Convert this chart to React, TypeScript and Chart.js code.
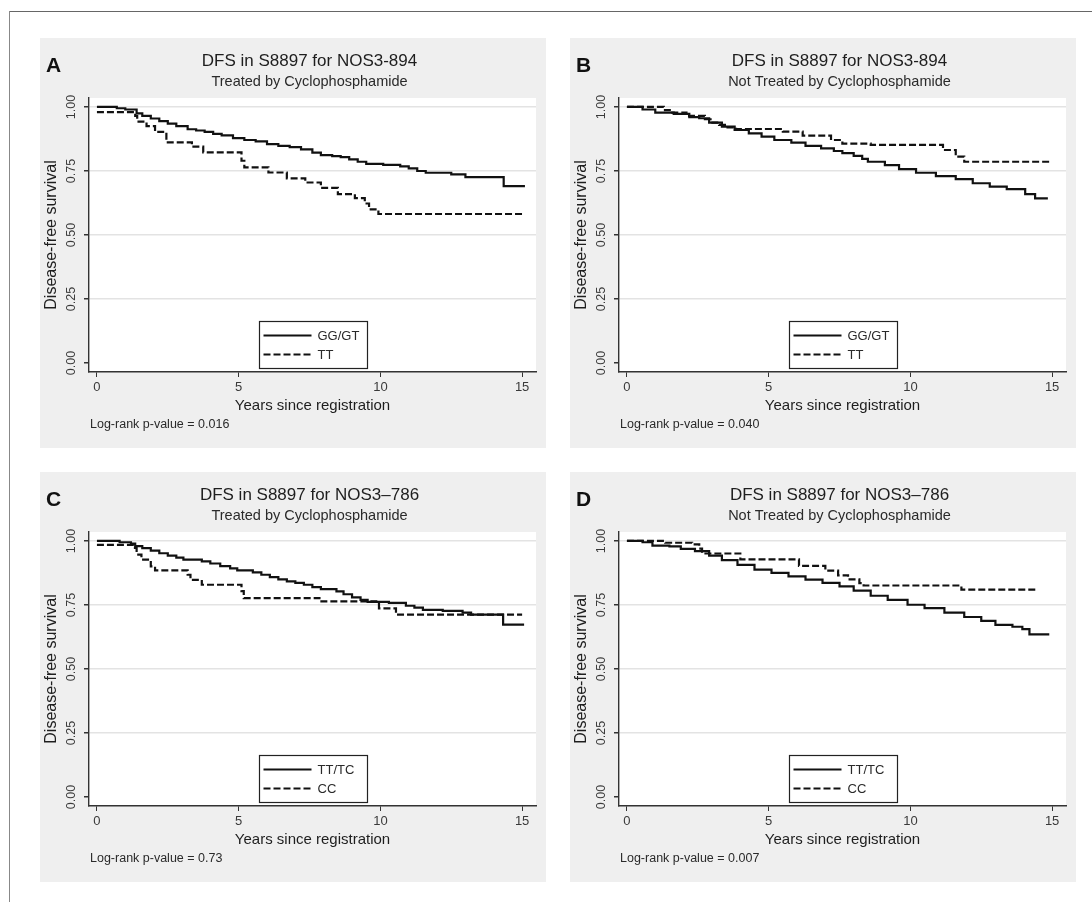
import React, { useEffect, useRef } from 'react';
import { Chart, registerables } from 'chart.js';

Chart.register(...registerables);

const FONT = '"Liberation Sans", Arial, Helvetica, sans-serif';
Chart.defaults.font.family = FONT;

// ---------- data ----------
const X_TICKS = [0, 5, 10, 15];
const Y_TICKS = [0, 0.25, 0.5, 0.75, 1];

const LETTERS = ['A', 'B', 'C', 'D'];
const TITLES = ['DFS in S8897 for NOS3-894', 'DFS in S8897 for NOS3-894', 'DFS in S8897 for NOS3–786', 'DFS in S8897 for NOS3–786'];
const SUBTITLES = ['Treated by Cyclophosphamide', 'Not Treated by Cyclophosphamide', 'Treated by Cyclophosphamide', 'Not Treated by Cyclophosphamide'];
const SOLID_LABELS = ['GG/GT', 'GG/GT', 'TT/TC', 'TT/TC'];
const DASH_LABELS = ['TT', 'TT', 'CC', 'CC'];
const P_VALUES = ['0.016', '0.040', '0.73', '0.007'];

// Panel A
const aSolidT = [0, 0.7, 1.0, 1.4, 1.6, 1.9, 2.2, 2.5, 2.8, 3.2, 3.5, 3.8, 4.1, 4.4, 4.8, 5.2, 5.6, 6.0, 6.4, 6.8, 7.2, 7.6, 7.9, 8.3, 8.6, 8.9, 9.2, 9.5, 10.1, 10.7, 11.0, 11.3, 11.6, 12.5, 13.0, 14.35, 15.1];
const aSolidS = [1.0, 0.995, 0.99, 0.975, 0.965, 0.955, 0.945, 0.935, 0.925, 0.913, 0.908, 0.903, 0.895, 0.889, 0.878, 0.871, 0.866, 0.855, 0.848, 0.843, 0.834, 0.822, 0.812, 0.808, 0.804, 0.795, 0.786, 0.778, 0.774, 0.768, 0.76, 0.75, 0.743, 0.737, 0.726, 0.691, 0.691];
const aDashT = [0, 1.35, 1.42, 1.75, 2.05, 2.45, 3.35, 3.75, 5.1, 5.2, 6.05, 6.7, 7.35, 7.9, 8.5, 9.1, 9.45, 9.6, 9.93, 15.05];
const aDashS = [0.98, 0.965, 0.943, 0.925, 0.903, 0.862, 0.845, 0.823, 0.79, 0.764, 0.744, 0.721, 0.705, 0.684, 0.66, 0.644, 0.623, 0.6, 0.582, 0.582];

// Panel B
const bSolidT = [0, 0.55, 1.0, 1.65, 2.2, 2.55, 2.9, 3.35, 3.8, 4.3, 4.75, 5.2, 5.8, 6.3, 6.85, 7.3, 7.6, 8.0, 8.3, 8.5, 9.1, 9.6, 10.2, 10.9, 11.6, 12.2, 12.8, 13.4, 14.05, 14.4, 14.85];
const bSolidS = [1.0, 0.99, 0.978, 0.973, 0.96, 0.956, 0.939, 0.923, 0.91, 0.897, 0.884, 0.871, 0.861, 0.848, 0.838, 0.828, 0.82, 0.809, 0.797, 0.786, 0.773, 0.757, 0.743, 0.73, 0.718, 0.702, 0.689, 0.679, 0.66, 0.643, 0.643];
const bDashT = [0, 1.3, 1.6, 2.1, 2.75, 2.95, 3.25, 3.5, 3.85, 5.5, 6.2, 7.2, 7.6, 8.6, 11.15, 11.6, 11.9, 15.0];
const bDashS = [1.0, 0.988, 0.978, 0.965, 0.952, 0.939, 0.93, 0.92, 0.914, 0.904, 0.888, 0.871, 0.857, 0.852, 0.832, 0.806, 0.786, 0.786];

// Panel C
const cSolidT = [0, 0.8, 1.2, 1.35, 1.6, 1.9, 2.2, 2.5, 2.8, 3.05, 3.7, 4.0, 4.35, 4.7, 4.95, 5.5, 5.8, 6.1, 6.4, 6.7, 7.0, 7.3, 7.6, 7.9, 8.45, 8.7, 9.0, 9.3, 9.55, 10.3, 10.9, 11.2, 11.5, 12.2, 12.9, 13.2, 14.33, 15.07];
const cSolidS = [1.0, 0.995, 0.99, 0.98, 0.972, 0.962, 0.952, 0.943, 0.935, 0.927, 0.92, 0.912, 0.902, 0.893, 0.885, 0.877, 0.868, 0.859, 0.85, 0.842, 0.836, 0.829, 0.82, 0.812, 0.803, 0.792, 0.78, 0.77, 0.762, 0.758, 0.747, 0.74, 0.731, 0.727, 0.72, 0.712, 0.673, 0.673];
const cDashT = [0, 1.3, 1.4, 1.57, 1.9, 2.05, 3.2, 3.3, 3.7, 5.1, 5.18, 7.85, 9.95, 10.55, 15.0];
const cDashS = [0.985, 0.973, 0.947, 0.927, 0.901, 0.885, 0.868, 0.848, 0.829, 0.804, 0.777, 0.764, 0.737, 0.712, 0.712];

// Panel D
const dSolidT = [0, 0.55, 0.9, 1.5, 1.9, 2.4, 2.9, 3.35, 3.9, 4.5, 5.1, 5.7, 6.3, 6.9, 7.5, 8.0, 8.6, 9.2, 9.9, 10.5, 11.2, 11.9, 12.5, 13.0, 13.6, 13.95, 14.2, 14.9];
const dSolidS = [1.0, 0.995, 0.982, 0.979, 0.969, 0.96, 0.943, 0.925, 0.907, 0.888, 0.875, 0.862, 0.849, 0.836, 0.823, 0.806, 0.786, 0.77, 0.751, 0.738, 0.72, 0.703, 0.688, 0.672, 0.665, 0.656, 0.635, 0.635];
const dDashT = [0, 1.35, 2.3, 2.55, 2.65, 4.0, 6.07, 7.0, 7.45, 7.8, 8.2, 8.35, 11.8, 14.5];
const dDashS = [1.0, 0.993, 0.987, 0.97, 0.951, 0.928, 0.903, 0.884, 0.866, 0.85, 0.835, 0.826, 0.81, 0.81];

const SOLID_T = [aSolidT, bSolidT, cSolidT, dSolidT];
const SOLID_S = [aSolidS, bSolidS, cSolidS, dSolidS];
const DASH_T = [aDashT, bDashT, cDashT, dDashT];
const DASH_S = [aDashS, bDashS, cDashS, dDashS];

// ---------- layout ----------
const PW = 506;
const PH = 410;
const PANEL_POS = [
  { left: 40, top: 38 },
  { left: 570, top: 38 },
  { left: 40, top: 472 },
  { left: 570, top: 472 },
];

const decorPlugin = {
  id: 'decor',
  beforeDraw(chart: any) {
    const { ctx, chartArea: ca, width, height } = chart;
    ctx.save();
    ctx.fillStyle = '#efefef';
    ctx.fillRect(0, 0, width, height);
    ctx.fillStyle = '#ffffff';
    ctx.fillRect(ca.left, ca.top, ca.right - ca.left, ca.bottom - ca.top);
    ctx.restore();
  },
  afterDraw(chart: any, _args: any, opts: any) {
    const { ctx, chartArea: ca } = chart;
    const ys = chart.scales.y;
    ctx.save();
    // rotated y tick labels
    ctx.font = `12.5px ${FONT}`;
    ctx.fillStyle = '#3a3a3a';
    ctx.textAlign = 'center';
    ctx.textBaseline = 'middle';
    for (const v of Y_TICKS) {
      const py = ys.getPixelForValue(v);
      ctx.save();
      ctx.translate(ca.left - 17, py);
      ctx.rotate(-Math.PI / 2);
      ctx.fillText(v.toFixed(2), 0, 0);
      ctx.restore();
    }
    // panel letter
    ctx.font = `bold 21px ${FONT}`;
    ctx.fillStyle = '#111';
    ctx.textAlign = 'left';
    ctx.fillText(opts.letter, 6, 28);
    // titles
    const cx = (ca.left + ca.right) / 2 - 3;
    ctx.textAlign = 'center';
    ctx.fillStyle = '#1e1e1e';
    ctx.font = `17px ${FONT}`;
    ctx.fillText(opts.title, cx, 23);
    ctx.font = `14.5px ${FONT}`;
    ctx.fillStyle = '#2a2a2a';
    ctx.fillText(opts.subtitle, cx, 44);
    // p-value
    ctx.textAlign = 'left';
    ctx.font = `12.5px ${FONT}`;
    ctx.fillStyle = '#2a2a2a';
    ctx.fillText(`Log-rank p-value = ${opts.pvalue}`, 50, 387);
    // legend box inside plot region
    const bw = 108;
    const bh = 47;
    const bx = Math.round((ca.left + ca.right) / 2 - bw / 2) + 0.5;
    const by = Math.round(ca.bottom - 4 - bh) + 0.5;
    ctx.fillStyle = '#fff';
    ctx.fillRect(bx, by, bw, bh);
    ctx.strokeStyle = '#222';
    ctx.lineWidth = 1.2;
    ctx.setLineDash([]);
    ctx.strokeRect(bx, by, bw, bh);
    chart.data.datasets.forEach((ds: any, i: number) => {
      const ly = by + 14 + i * 19;
      ctx.strokeStyle = ds.borderColor;
      ctx.lineWidth = ds.borderWidth;
      ctx.setLineDash(ds.borderDash || []);
      ctx.beginPath();
      ctx.moveTo(bx + 4, ly);
      ctx.lineTo(bx + 52, ly);
      ctx.stroke();
      ctx.setLineDash([]);
      ctx.fillStyle = '#2a2a2a';
      ctx.font = `13px ${FONT}`;
      ctx.textAlign = 'left';
      ctx.fillText(ds.label, bx + 58, ly + 1);
    });
    ctx.restore();
  },
};

function Panel({ idx }: { idx: number }) {
  const ref = useRef<HTMLCanvasElement | null>(null);
  useEffect(() => {
    if (!ref.current) return;
    const mk = (t: number[], s: number[]) => t.map((x, i) => ({ x, y: s[i] }));
    const chart = new Chart(ref.current, {
      type: 'line',
      data: {
        datasets: [
          {
            label: SOLID_LABELS[idx],
            data: mk(SOLID_T[idx], SOLID_S[idx]),
            stepped: true,
            borderColor: '#111',
            borderWidth: 2.2,
            borderDash: [],
            pointRadius: 0,
            fill: false,
          },
          {
            label: DASH_LABELS[idx],
            data: mk(DASH_T[idx], DASH_S[idx]),
            stepped: true,
            borderColor: '#111',
            borderWidth: 2.2,
            borderDash: [7, 3],
            pointRadius: 0,
            fill: false,
          },
        ],
      },
      options: {
        animation: false,
        responsive: false,
        devicePixelRatio: 1,
        layout: { padding: { left: 0, top: 60, right: 10, bottom: 0 } },
        plugins: {
          legend: { display: false },
          tooltip: { enabled: false },
          decor: {
            letter: LETTERS[idx],
            title: TITLES[idx],
            subtitle: SUBTITLES[idx],
            pvalue: P_VALUES[idx],
          },
        } as any,
        scales: {
          x: {
            type: 'linear',
            min: -0.28,
            max: 15.49,
            afterBuildTicks: (s: any) => {
              s.ticks = X_TICKS.map((v) => ({ value: v }));
            },
            afterFit: (s: any) => {
              s.height = 76;
            },
            ticks: {
              color: '#3a3a3a',
              font: { size: 13 },
              padding: 3,
              maxRotation: 0,
              callback: (v: any) => String(v),
            },
            grid: {
              display: true,
              drawOnChartArea: false,
              drawTicks: true,
              tickLength: 5,
              tickColor: '#333',
            },
            border: { display: true, color: '#333', width: 1.4 },
            title: {
              display: true,
              text: 'Years since registration',
              color: '#1e1e1e',
              font: { size: 15 },
              padding: { top: 0, bottom: 33.6 },
            },
          },
          y: {
            type: 'linear',
            min: -0.035,
            max: 1.035,
            afterBuildTicks: (s: any) => {
              s.ticks = Y_TICKS.map((v) => ({ value: v }));
            },
            afterFit: (s: any) => {
              s.width = 49;
            },
            ticks: { display: false },
            grid: {
              drawOnChartArea: true,
              drawTicks: true,
              tickLength: 5,
              tickColor: '#333',
              lineWidth: 1.5,
              color: (c: any) => (c.tick && c.tick.value > 0 ? '#e3e3e3' : 'rgba(0,0,0,0)'),
            },
            border: { display: true, color: '#333', width: 1.4 },
            title: {
              display: true,
              text: 'Disease-free survival',
              color: '#1e1e1e',
              font: { size: 16 },
              padding: { top: 2.4, bottom: 0 },
            },
          },
        },
      },
      plugins: [decorPlugin],
    } as any);
    return () => chart.destroy();
  }, [idx]);
  const pos = PANEL_POS[idx];
  return (
    <canvas
      ref={ref}
      width={PW}
      height={PH}
      style={{ position: 'absolute', left: pos.left, top: pos.top, width: PW, height: PH }}
    />
  );
}

export default function App() {
  return (
    <div
      style={{
        position: 'fixed',
        left: 0,
        top: 0,
        width: 1092,
        height: 902,
        background: '#ffffff',
        overflow: 'hidden',
      }}
    >
      <div style={{ position: 'absolute', left: 9, top: 11, width: 1083, height: 1, background: '#666' }} />
      <div style={{ position: 'absolute', left: 9, top: 11, width: 1, height: 891, background: '#888' }} />
      {[0, 1, 2, 3].map((i) => (
        <Panel key={i} idx={i} />
      ))}
    </div>
  );
}
